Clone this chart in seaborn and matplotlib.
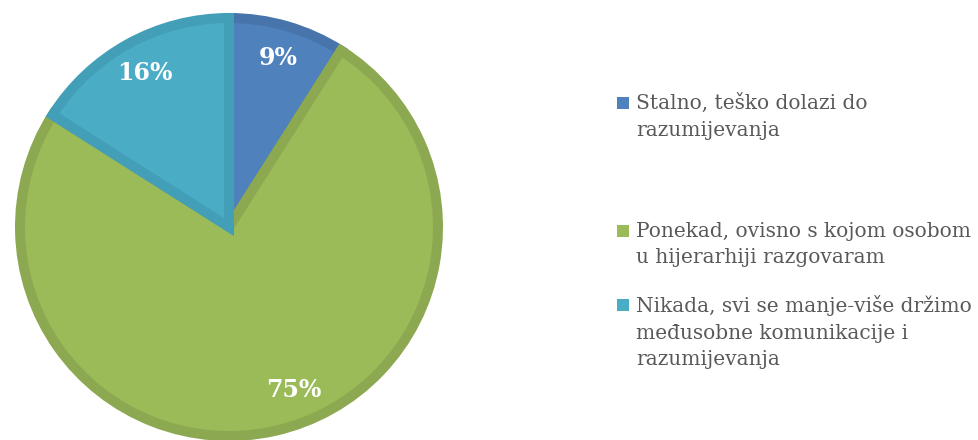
import matplotlib
matplotlib.use("Agg")
import matplotlib.pyplot as plt
from matplotlib.patches import Rectangle
import seaborn as sns
import numpy as np

# chart data
categories = [
    "Stalno, teško dolazi do\nrazumijevanja",
    "Ponekad, ovisno s kojom osobom\nu hijerarhiji razgovaram",
    "Nikada, svi se manje-više držimo\nmeđusobne komunikacije i\nrazumijevanja",
]
shares = [9, 75, 16]
fills = ["#4F81BD", "#9BBB59", "#4BACC6"]
edges = ["#4774AB", "#8CA951", "#439FB7"]

sns.set_theme(style="white")
plt.rcParams["font.family"] = ["DejaVu Serif"]

W, H = 979, 440
fig = plt.figure(figsize=(W / 100, H / 100), dpi=100)

# pie axes placed in pixels: centre (229, 227), outer radius 214
cx, cy, R = 229, 227, 214
ax = fig.add_axes([(cx - R) / W, (H - cy - R) / H, 2 * R / W, 2 * R / H])

lw_px = 10
wedges, texts, autotexts = ax.pie(
    shares,
    colors=fills,
    startangle=90,
    counterclock=False,
    radius=1 - (lw_px / 2) / R,
    autopct="%d%%",
    pctdistance=0.84,
    wedgeprops=dict(linewidth=lw_px * 0.72, joinstyle="miter"),
    textprops=dict(color="white", fontsize=17, fontweight="bold"),
)
ax.set_xlim(-1, 1)
ax.set_ylim(-1, 1)
ax.set_aspect("equal")
ax.axis("off")
for w, ec in zip(wedges, edges):
    w.set_edgecolor(ec)
    w.set_clip_on(False)

# Excel nudged the large label toward the right
ang = np.deg2rad(-68.4)
autotexts[1].set_position((0.82 * np.cos(ang), 0.82 * np.sin(ang)))

# legend drawn by hand so the uneven spacing matches
leg_y = [103, 231, 305]
line_px = 27
for lab, col, y in zip(categories, fills, leg_y):
    fig.add_artist(Rectangle((617 / W, (H - y - 6) / H), 12 / W, 12 / H,
                             transform=fig.transFigure, color=col, lw=0))
    n = lab.count("\n")
    fig.text(636 / W, (H - y - n * line_px / 2) / H, lab, ha="left", va="center",
             fontsize=14.5, color="#595959", linespacing=1.52,
             transform=fig.transFigure)

fig.savefig("out.png", dpi=100)
